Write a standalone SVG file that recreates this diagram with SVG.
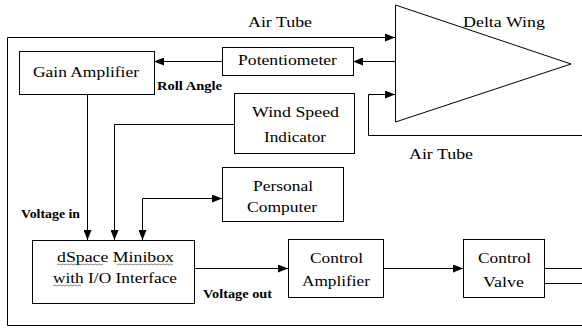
<svg xmlns="http://www.w3.org/2000/svg" width="582" height="329" viewBox="0 0 582 329">
<style>
  .box { fill: #fff; stroke: #000; stroke-width: 1; }
  .wire { fill: none; stroke: #000; stroke-width: 1; }
  .arr { marker-end: url(#ah); }
  .t { font-family: "Liberation Serif", "DejaVu Serif", serif; font-size: 15px; fill: #000; }
  .s { font-family: "Liberation Serif", "DejaVu Serif", serif; font-size: 12px; font-weight: bold; fill: #000; }
  .sq { fill: none; stroke: #555; stroke-width: 0.7; }
</style>
<defs>
  <marker id="ah" viewBox="0 0 10 8" refX="10" refY="4" markerWidth="10" markerHeight="8" markerUnits="userSpaceOnUse" orient="auto-start-reverse">
    <path d="M0,0 L10,4 L0,8 Z" fill="#000"/>
  </marker>
</defs>
<rect width="582" height="329" fill="#fff"/>

<g id="connectors">
  <path class="wire arr" d="M582,325.5 H7.5 V37.5 H395"/>
  <path class="wire arr" d="M395,61.5 H353"/>
  <path class="wire arr" d="M222,61.5 H154"/>
  <path class="wire arr" d="M87.5,94 V240"/>
  <path class="wire arr" d="M234,124.5 H114.5 V240"/>
  <path class="wire" d="M142.5,240 V198.5 H222" marker-start="url(#ah)" marker-end="url(#ah)"/>
  <path class="wire arr" d="M194,268.5 H288"/>
  <path class="wire arr" d="M383,268.5 H463"/>
  <path class="wire" d="M544,268.5 H582 M544,283.5 H582"/>
  <path class="wire arr" d="M582,135.5 H368.5 V94.5 H395"/>
</g>

<g id="delta-wing">
  <polygon class="box" points="395.5,5 571,64 395.5,122"/>
</g>

<g id="gain-amplifier">
  <rect class="box" x="19.5" y="51.5" width="135" height="43"/>
  <text class="t" x="33" y="77" textLength="106" lengthAdjust="spacingAndGlyphs">Gain Amplifier</text>
</g>

<g id="potentiometer">
  <rect class="box" x="222.5" y="47.5" width="131" height="28"/>
  <text class="t" x="238" y="65" textLength="99" lengthAdjust="spacingAndGlyphs">Potentiometer</text>
</g>

<g id="wind-speed-indicator">
  <rect class="box" x="234.5" y="93.5" width="120" height="60"/>
  <text class="t" x="252" y="117" textLength="87" lengthAdjust="spacingAndGlyphs">Wind Speed</text>
  <text class="t" x="264" y="142" textLength="62" lengthAdjust="spacingAndGlyphs">Indicator</text>
</g>

<g id="personal-computer">
  <rect class="box" x="222.5" y="167.5" width="121" height="54"/>
  <text class="t" x="253" y="191" textLength="60" lengthAdjust="spacingAndGlyphs">Personal</text>
  <text class="t" x="247" y="212" textLength="70" lengthAdjust="spacingAndGlyphs">Computer</text>
</g>

<g id="dspace-minibox">
  <rect class="box" x="32.5" y="240.5" width="162" height="63"/>
  <text class="t" x="57" y="262" textLength="117" lengthAdjust="spacingAndGlyphs">dSpace Minibox</text>
  <text class="t" x="53" y="283" textLength="124" lengthAdjust="spacingAndGlyphs">with I/O Interface</text>
  <polyline class="sq" points="57,265 59,264 61,265 63,264 65,265 67,264 69,265 71,264 73,265 75,264 77,265 79,264 81,265 83,264 85,265 87,264 89,265 91,264 93,265 95,264 97,265 99,264 101,265 103,264"/>
  <polyline class="sq" points="117,265 119,264 121,265 123,264 125,265 127,264 129,265 131,264 133,265 135,264 137,265 139,264 141,265 143,264 145,265 147,264 149,265 151,264 153,265 155,264 157,265 159,264 161,265 163,264 165,265 167,264 169,265 171,264 173,265"/>
  <polyline class="sq" points="53,286 55,285 57,286 59,285 61,286 63,285 65,286 67,285 69,286 71,285 73,286 75,285 77,286 79,285 81,286"/>
</g>

<g id="control-amplifier">
  <rect class="box" x="288.5" y="239.5" width="95" height="58"/>
  <text class="t" x="310" y="263" textLength="53" lengthAdjust="spacingAndGlyphs">Control</text>
  <text class="t" x="302" y="286" textLength="68" lengthAdjust="spacingAndGlyphs">Amplifier</text>
</g>

<g id="control-valve">
  <rect class="box" x="463.5" y="239.5" width="81" height="58"/>
  <text class="t" x="478" y="263" textLength="53" lengthAdjust="spacingAndGlyphs">Control</text>
  <text class="t" x="483" y="287" textLength="41" lengthAdjust="spacingAndGlyphs">Valve</text>
</g>

<g id="labels">
  <text class="t" x="248" y="27" textLength="64" lengthAdjust="spacingAndGlyphs">Air Tube</text>
  <text class="t" x="463" y="27" textLength="82" lengthAdjust="spacingAndGlyphs">Delta Wing</text>
  <text class="t" x="409" y="159" textLength="64" lengthAdjust="spacingAndGlyphs">Air Tube</text>
  <text class="s" x="157" y="90" textLength="65" lengthAdjust="spacingAndGlyphs">Roll Angle</text>
  <text class="s" x="21" y="218" textLength="59" lengthAdjust="spacingAndGlyphs">Voltage in</text>
  <text class="s" x="203" y="298" textLength="69" lengthAdjust="spacingAndGlyphs">Voltage out</text>
</g>
</svg>
